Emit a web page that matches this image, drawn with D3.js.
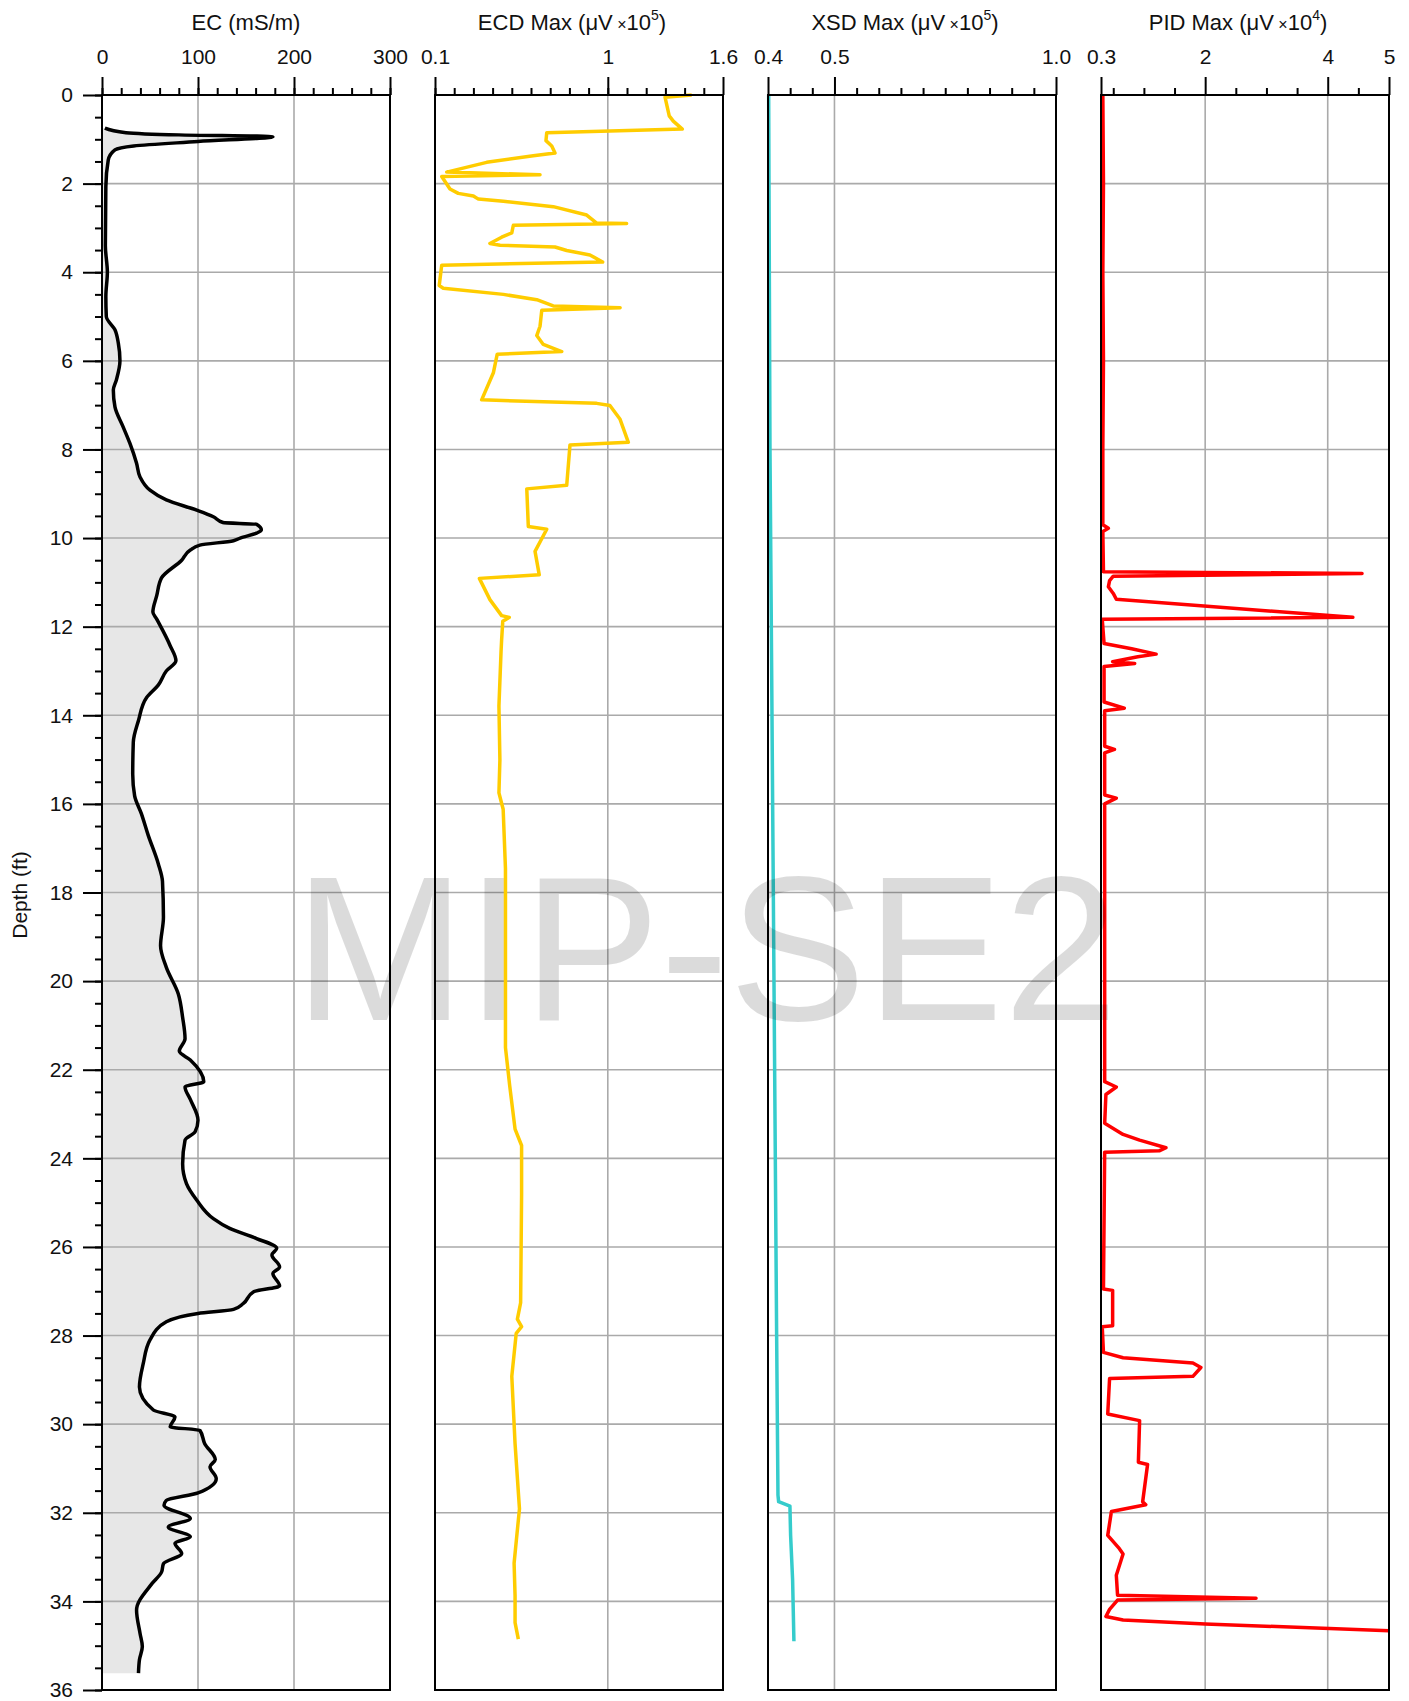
<!DOCTYPE html>
<html>
<head>
<meta charset="utf-8">
<script src="https://cdn.jsdelivr.net/npm/d3@7"></script>
<style>
  body { margin: 0; background: #fff; }
  svg text { font-family: "Liberation Sans", Arial, Helvetica, sans-serif; fill: #111; }
</style>
</head>
<body>
<div id="chart"></div>
<script>
// [depth ft, value]
const ecData = [
  [0.75,3],[0.85,25],[0.9,80],[0.94,178],[1.05,100],[1.15,33],[1.24,13.5],[1.47,6.5],[2.07,4],[3.4,3.5],
  [4.0,5.6],[4.55,4],[5.0,4.5],[5.3,13.5],[5.6,17],[6.0,18.7],[6.43,15],[6.66,11.8],[7.04,13.5],[7.49,22],
  [7.86,29],[8.31,36],[8.62,39.6],[8.92,50],[9.14,67],[9.37,98.6],[9.52,116],[9.65,126],[9.69,161],[9.82,166],
  [9.89,161],[10.0,144],[10.06,137],[10.16,102],[10.27,92],[10.5,83],[10.9,62],[11.3,57],[11.67,53],[11.83,57],
  [12.43,71],[12.77,77],[13.0,67],[13.32,58.6],[13.6,46.5],[14.12,38],[14.61,32.6],[15.33,32],[15.82,34],[16.22,41],
  [16.7,48],[17.35,58.6],[17.75,63],[18.56,64],[19.2,61],[19.69,67],[20.29,79.5],[20.82,84],[21.3,86.5],[21.58,80.5],
  [21.78,92],[22.27,106],[22.39,86.5],[22.67,92],[23.14,100],[23.4,97],[23.59,86.5],[24.12,84],[24.57,88],[24.94,98.6],
  [25.36,116],[25.58,133],[25.81,161],[26.03,182],[26.18,177],[26.45,185],[26.6,178],[26.88,185],[27.01,158],[27.28,147],
  [27.41,137],[27.5,100],[27.69,67],[28.1,50],[28.63,43],[29.16,39],[29.68,53.5],[29.84,76],[30.06,71],[30.14,102],
  [30.44,107],[30.8,118],[30.96,112.5],[31.23,119],[31.55,100],[31.72,67],[31.83,64.6],[32.13,92],[32.32,69],[32.54,92],
  [32.69,76],[32.92,83],[33.15,64],[33.34,62],[33.6,52],[34.2,36],[34.72,39.6],[35.02,42],[35.32,39],[35.62,38]
];
const ecdData = [
  [0.0,1.437],[0.05,1.298],[0.47,1.32],[0.59,1.341],[0.77,1.388],[0.85,0.682],[1.03,0.678],[1.15,0.708],[1.31,0.725],[1.37,0.612],
  [1.52,0.369],[1.74,0.161],[1.80,0.647],[1.84,0.135],[2.12,0.178],[2.22,0.221],[2.28,0.30],[2.35,0.326],[2.40,0.456],[2.52,0.716],
  [2.71,0.89],[2.89,0.942],[2.90,1.098],[2.94,0.508],[3.11,0.50],[3.21,0.447],[3.35,0.386],[3.39,0.439],[3.43,0.725],[3.51,0.786],
  [3.61,0.907],[3.77,0.973],[3.84,0.135],[4.30,0.122],[4.36,0.143],[4.50,0.456],[4.62,0.63],[4.76,0.716],[4.80,1.064],[4.86,0.656],
  [5.22,0.647],[5.43,0.63],[5.63,0.664],[5.79,0.76],[5.85,0.424],[6.27,0.404],[6.88,0.343],[6.96,0.942],[7.01,1.011],[7.32,1.064],
  [7.84,1.107],[7.90,0.803],[8.81,0.786],[8.89,0.578],[9.74,0.586],[9.80,0.682],[10.30,0.621],[10.83,0.643],[10.91,0.331],[11.39,0.386],
  [11.75,0.447],[11.79,0.487],[11.88,0.453],[12.30,0.447],[12.56,0.444],[13.79,0.433],[15.01,0.438],[15.75,0.433],[16.12,0.455],[17.46,0.467],
  [19.91,0.467],[21.5,0.467],[22.36,0.489],[23.34,0.517],[23.71,0.551],[24.81,0.551],[27.26,0.546],[27.63,0.529],[27.8,0.551],[27.95,0.523],
  [28.92,0.50],[30.44,0.517],[31.91,0.54],[32.65,0.523],[33.14,0.512],[33.87,0.517],[34.48,0.517],[34.85,0.534]
];
const xsdData = [
  [0,0.401],[4,0.402],[8,0.403],[12,0.405],[16,0.407],[20,0.409],[24,0.411],[28,0.413],[31.6,0.415],[31.75,0.416],
  [31.85,0.433],[32.5,0.434],[33.5,0.437],[34.9,0.439]
];
const pidData = [
  [0,0.33],[2,0.34],[4,0.33],[6,0.34],[8,0.33],[9.7,0.33],[9.78,0.42],[9.85,0.33],[10.76,0.34],[10.8,4.56],
  [10.86,0.5],[10.96,0.44],[11.1,0.42],[11.25,0.5],[11.38,0.55],[11.79,4.41],[11.83,0.32],[12.38,0.35],[12.5,0.8],[12.62,1.2],
  [12.68,0.9],[12.79,0.49],[12.83,0.85],[12.9,0.35],[13.7,0.35],[13.84,0.68],[13.9,0.36],[14.7,0.36],[14.77,0.52],[14.85,0.36],
  [15.8,0.36],[15.87,0.55],[16.0,0.36],[22.27,0.36],[22.39,0.55],[22.56,0.38],[23.21,0.36],[23.46,0.66],[23.59,0.93],[23.76,1.36],
  [23.83,1.25],[23.86,0.36],[26.95,0.34],[26.98,0.49],[27.78,0.49],[27.8,0.32],[28.38,0.34],[28.5,0.66],[28.62,1.8],[28.72,1.93],
  [28.92,1.8],[28.97,0.44],[29.77,0.41],[29.92,0.93],[30.86,0.91],[30.91,1.06],[31.75,0.98],[31.82,1.03],[31.97,0.47],[32.51,0.41],
  [32.81,0.6],[32.93,0.66],[33.41,0.55],[33.86,0.57],[33.93,2.83],[33.97,0.57],[34.18,0.44],[34.34,0.38],[34.42,0.66],[34.51,2.0],
  [34.66,5.0]
];

const depthTicks = d3.range(0, 37, 2);
const depthMinor = d3.range(0, 36.01, 0.5);
const ecTicks = [0, 100, 200, 300];
const ecdTicks = [0.1, 1, 1.6];
const xsdTicks = [0.4, 0.5, 1.0];
const xsdLabels = ["0.4", "0.5", "1.0"];
const pidTicks = [0.3, 2, 4, 5];

const W = 1409, H = 1701;
const plotTop = 95, pw = 288;
const lefts = [102, 435, 768, 1101];

const svg = d3.select("#chart").append("svg")
  .attr("width", W).attr("height", H);

const y = d3.scaleLinear().domain([0, 36]).range([plotTop, 1690]);

const tracks = [
  { title: ["EC (mS/m)"], data: ecData, color: "#000", curve: d3.curveMonotoneY,
    x: d3.scaleLinear().domain([0, 300]).range([lefts[0], lefts[0] + pw]),
    ticks: ecTicks, labels: ecTicks.map(String), minor: d3.range(0, 301, 20), grid: [100, 200] },
  { title: ["ECD Max (μV", "5"], data: ecdData, color: "#ffcc00", curve: d3.curveLinear,
    x: d3.scaleLinear().domain([0.1, 1.6]).range([lefts[1], lefts[1] + pw]),
    ticks: ecdTicks, labels: ["0.1", "1", "1.6"], minor: d3.range(1, 16).map(i => i / 10), grid: [1] },
  { title: ["XSD Max (μV", "5"], data: xsdData, color: "#35cccc", curve: d3.curveLinear,
    x: d3.scaleLinear().domain([0.4, 0.5, 1.0]).range([lefts[2], lefts[2] + pw * 3 / 13, lefts[2] + pw]),
    ticks: xsdTicks, labels: xsdLabels,
    minor: [0.4 + 1 / 30, 0.4 + 2 / 30].concat(d3.range(11, 20).map(i => i / 20)), grid: [0.5] },
  { title: ["PID Max (μV", "4"], data: pidData, color: "#ff0000", curve: d3.curveLinear,
    x: d3.scaleLinear().domain([0.3, 5]).range([lefts[3], lefts[3] + pw]),
    ticks: pidTicks, labels: ["0.3", "2", "4", "5"], minor: [0.5, 1, 1.5, 2.5, 3, 3.5, 4.5], grid: [2, 4] }
];

tracks.forEach(function (t, i) {
  const g = svg.append("g");
  const x0 = t.x.range()[0], x1 = t.x.range()[t.x.range().length - 1];

  // EC gets a shaded area from zero
  if (i === 0) {
    g.append("path")
      .datum(t.data)
      .attr("fill", "#e7e7e7")
      .attr("d", d3.area().curve(t.curve).y(d => y(d[0])).x0(x0).x1(d => t.x(d[1])));
  }

  // grid
  g.selectAll(".hg").data(depthTicks.slice(1, -1)).enter().append("line")
    .attr("x1", x0).attr("x2", x1)
    .attr("y1", d => y(d)).attr("y2", d => y(d))
    .attr("stroke", "#aaa").attr("stroke-width", 1.6);
  g.selectAll(".vg").data(t.grid).enter().append("line")
    .attr("x1", d => t.x(d)).attr("x2", d => t.x(d))
    .attr("y1", y(0)).attr("y2", y(36))
    .attr("stroke", "#aaa").attr("stroke-width", 1.6);

  g.append("path")
    .datum(t.data)
    .attr("fill", "none")
    .attr("stroke", t.color)
    .attr("stroke-width", 3.5)
    .attr("stroke-linejoin", "round")
    .attr("d", d3.line().curve(t.curve).y(d => y(d[0])).x(d => t.x(d[1])));

  g.append("rect")
    .attr("x", x0).attr("y", y(0))
    .attr("width", x1 - x0).attr("height", y(36) - y(0))
    .attr("fill", "none").attr("stroke", "#000").attr("stroke-width", 2);

  // top axis: minor then major
  const minorAx = g.append("g").attr("transform", `translate(0,${plotTop})`)
    .call(d3.axisTop(t.x).tickValues(t.minor).tickSize(7).tickFormat(""));
  minorAx.select(".domain").remove();
  minorAx.selectAll("line").attr("stroke-width", 2);

  const majorAx = g.append("g").attr("transform", `translate(0,${plotTop})`)
    .call(d3.axisTop(t.x).tickValues(t.ticks).tickSize(18).tickPadding(13)
      .tickFormat((d, k) => t.labels[k]));
  majorAx.select(".domain").remove();
  majorAx.selectAll("line").attr("stroke-width", 2);
  majorAx.selectAll("text").attr("font-size", 21).attr("fill", "#111");

  const title = g.append("text")
    .attr("x", (x0 + x1) / 2 - (t.title.length > 1 ? 7 : 0))
    .attr("y", 30)
    .attr("text-anchor", "middle")
    .attr("font-size", 22);
  title.append("tspan").text(t.title[0]);
  if (t.title.length > 1) {
    title.append("tspan").attr("font-size", 16).text(" \u00d7");
    title.append("tspan").text("10");
    title.append("tspan").attr("font-size", 14).attr("dy", -10).text(t.title[1]);
    title.append("tspan").attr("dy", 10).text(")");
  }
});

// depth axis
const yMinor = svg.append("g").attr("transform", `translate(${lefts[0]},0)`)
  .call(d3.axisLeft(y).tickValues(depthMinor).tickSize(7).tickFormat(""));
yMinor.select(".domain").remove();
yMinor.selectAll("line").attr("stroke-width", 2);

const yMajor = svg.append("g").attr("transform", `translate(${lefts[0]},0)`)
  .call(d3.axisLeft(y).tickValues(depthTicks).tickSize(19).tickPadding(10));
yMajor.select(".domain").remove();
yMajor.selectAll("line").attr("stroke-width", 2);
yMajor.selectAll("text").attr("font-size", 21).attr("fill", "#111");

svg.append("text")
  .attr("transform", "translate(27,895) rotate(-90)")
  .attr("text-anchor", "middle")
  .attr("font-size", 21)
  .text("Depth (ft)");

// watermark
svg.append("text")
  .attr("x", 706).attr("y", 1020)
  .attr("text-anchor", "middle")
  .attr("font-size", 206)
  .style("fill", "#000")
  .attr("fill-opacity", 0.14)
  .text("MIP-SE2");
</script>
</body>
</html>
